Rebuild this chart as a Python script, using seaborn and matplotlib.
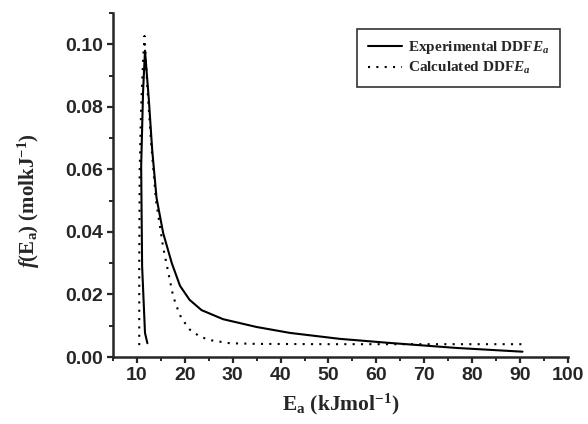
import seaborn as sns
import matplotlib.pyplot as plt
import pandas as pd
from matplotlib.ticker import MultipleLocator

# experimental DDF curve (drawn in the order the points are listed)
exp_E = [12.2, 11.7, 11.1, 10.9, 11.3, 11.7, 12.5, 13.2, 14.1, 15.5, 17.3,
         19.0, 21.0, 23.5, 28.0, 35.0, 42.0, 52.4, 62.8, 76.7, 90.5]
exp_f = [0.0044, 0.0077, 0.029, 0.061, 0.085, 0.098, 0.0824, 0.0663, 0.0510,
         0.0396, 0.0300, 0.0228, 0.0183, 0.0150, 0.0121, 0.0096, 0.0077,
         0.0058, 0.0045, 0.0029, 0.0017]

# calculated DDF curve
calc_E = [10.5, 10.5, 10.6, 10.9, 11.3, 11.6, 12.2, 13.0, 14.0, 15.5, 16.5,
          17.6, 18.6, 19.3, 21.1, 23.2, 25.3, 29.4, 35.0, 50.0, 70.0, 90.6]
calc_f = [0.0038, 0.030, 0.060, 0.080, 0.095, 0.1027, 0.086, 0.068, 0.050,
          0.035, 0.0275, 0.0193, 0.015, 0.0124, 0.0087, 0.0065, 0.0054,
          0.0044, 0.0042, 0.0041, 0.0041, 0.0041]

sns.set_style("ticks")
plt.rcParams.update({
    "font.family": "Liberation Sans",
    "font.weight": "bold",
    "mathtext.fontset": "custom",
    "mathtext.it": "Liberation Serif:italic:bold",
    "mathtext.rm": "Liberation Serif:bold",
})

df_exp = pd.DataFrame({"E": exp_E, "f": exp_f})
df_calc = pd.DataFrame({"E": calc_E, "f": calc_f})

fig = plt.figure(figsize=(5.88, 4.24), dpi=100)
ax = fig.add_axes([0.192, 0.158, 0.774, 0.811])

sns.lineplot(data=df_exp, x="E", y="f", sort=False, estimator=None, ax=ax,
             color="black", lw=1.5, label=r"Experimental DDF$\mathit{E_a}$")
sns.lineplot(data=df_calc, x="E", y="f", sort=False, estimator=None, ax=ax,
             color="black", lw=1.5, linestyle=(0, (1, 3)),
             label=r"Calculated DDF$\mathit{E_a}$")

ax.set_xlim(5, 100)
ax.set_ylim(0, 0.11)
ax.xaxis.set_major_locator(MultipleLocator(10))
ax.xaxis.set_minor_locator(MultipleLocator(5))
ax.yaxis.set_minor_locator(MultipleLocator(0.01))
ax.set_yticks([0, 0.02, 0.04, 0.06, 0.08, 0.10])
ax.set_yticklabels(["0.00", "0.02", "0.04", "0.06", "0.08", "0.10"])

sns.despine(ax=ax)
for s in ["left", "bottom"]:
    ax.spines[s].set_linewidth(1.8)
ax.tick_params(which="major", length=4, width=1.6, labelsize=14, pad=3)
ax.tick_params(which="minor", length=3, width=1.4)
for lab in ax.get_xticklabels() + ax.get_yticklabels():
    lab.set_fontweight("bold")

serif = {"family": "Liberation Serif", "weight": "bold"}
ax.set_xlabel(r"E$_\mathregular{a}$ (kJmol$^\mathregular{-1}$)", fontdict=serif,
              fontsize=15.5, labelpad=6)
ax.set_ylabel(r"$\mathit{f}$(E$_\mathregular{a}$) (molkJ$^\mathregular{-1}$)", fontdict=serif,
              fontsize=15)
ax.yaxis.set_label_coords(-0.155, 0.456)

leg = ax.legend(loc="upper right", bbox_to_anchor=(0.982, 0.955), borderaxespad=0,
                frameon=True, fancybox=False, edgecolor="black", handlelength=2.2,
                handletextpad=0.4,
                prop={"family": "Liberation Serif", "weight": "bold", "size": 11},
                borderpad=0.7, labelspacing=0.25)
leg.get_frame().set_linewidth(1.2)

plt.savefig("out.png", dpi=100)
